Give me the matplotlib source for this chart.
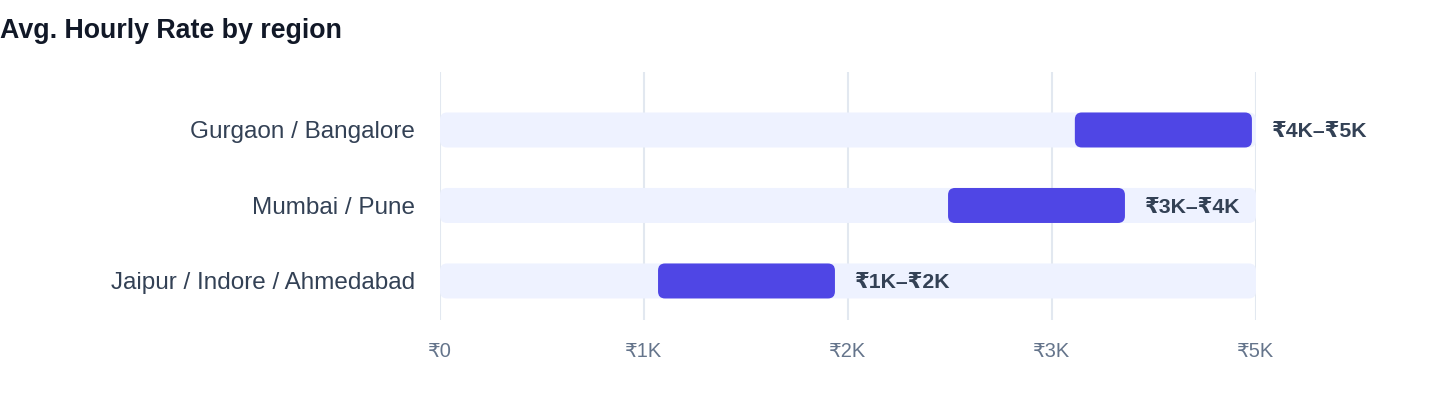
import matplotlib
matplotlib.use("Agg")
import matplotlib.pyplot as plt
from matplotlib.patches import FancyBboxPatch

# data
regions = ["Gurgaon / Bangalore", "Mumbai / Pune", "Jaipur / Indore / Ahmedabad"]
rate_low = [3890, 3113, 1336]
rate_high = [4975, 4197, 2420]
range_labels = ["₹4K–₹5K", "₹3K–₹4K", "₹1K–₹2K"]
axis_max = 5000
tick_values = [0, 1250, 2500, 3750, 5000]
tick_labels = ["₹0", "₹1K", "₹2K", "₹3K", "₹5K"]

FONT = ["Liberation Sans", "DejaVu Sans"]
plt.rcParams["font.family"] = FONT

W, H = 1440, 408
fig = plt.figure(figsize=(W / 100, H / 100), dpi=100)
ax = fig.add_axes([440 / W, 1 - 320 / H, 816 / W, 248 / H])

ax.set_xlim(0, axis_max)
ax.set_ylim(2.517, -0.768)

# pixel -> data scales, for rounded corners
x_per_px = axis_max / 816
y_per_px = (2.517 + 0.768) / 248
aspect = y_per_px / x_per_px
radius = 7 * x_per_px
bar_h = 35 * y_per_px

track_color = "#EEF2FF"
bar_color = "#4F46E5"

for i, region in enumerate(regions):
    track = FancyBboxPatch((0, i - bar_h / 2), axis_max, bar_h,
                           boxstyle=f"round,pad=0,rounding_size={radius}",
                           mutation_aspect=aspect, fc=track_color, ec="none", zorder=2)
    ax.add_patch(track)
    bar = FancyBboxPatch((rate_low[i], i - bar_h / 2), rate_high[i] - rate_low[i], bar_h,
                         boxstyle=f"round,pad=0,rounding_size={radius}",
                         mutation_aspect=aspect, fc=bar_color, ec="none", zorder=3)
    ax.add_patch(bar)
    ax.annotate(range_labels[i], (rate_high[i], i), xytext=(14.5, 0),
                textcoords="offset points", ha="left", va="center_baseline",
                fontsize=15.3, fontweight="bold", color="#334155", zorder=4)

ax.set_yticks(range(len(regions)))
ax.set_yticklabels(regions, fontsize=17.5, color="#334155")
for lbl in ax.get_yticklabels():
    lbl.set_verticalalignment("center_baseline")
ax.set_xticks(tick_values)
ax.set_xticklabels(tick_labels, fontsize=14.4, color="#64748B")
ax.tick_params(axis="both", length=0)
ax.tick_params(axis="y", pad=18)
ax.tick_params(axis="x", pad=16)
ax.grid(axis="x", color="#E2E8F0", linewidth=1.5, zorder=0)
ax.set_axisbelow(True)
for s in ax.spines.values():
    s.set_visible(False)

fig.text(0.0, 1 - 31 / H, "Avg. Hourly Rate by region", ha="left", va="center",
         fontsize=19.3, fontweight="bold", color="#111827")

fig.savefig("out.png", dpi=100)
